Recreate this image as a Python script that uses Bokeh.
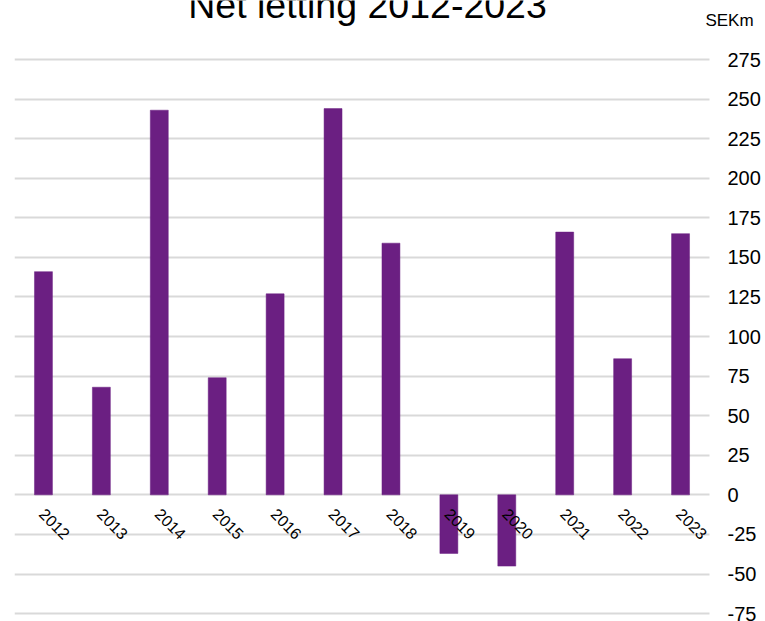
import math
from bokeh.plotting import figure
from bokeh.models import Range1d, FixedTicker, Label, ColumnDataSource
from bokeh.core.properties import value
from bokeh.embed import file_html
from bokeh.resources import INLINE

years = ["2012", "2013", "2014", "2015", "2016", "2017",
         "2018", "2019", "2020", "2021", "2022", "2023"]
net_letting = [141, 68, 243, 74, 127, 244, 159, -37, -45, 166, 86, 165]
y_ticks = [-75, -50, -25, 0, 25, 50, 75, 100, 125, 150, 175, 200, 225, 250, 275]
y_tick_labels = {t: str(t) for t in y_ticks}
title_text = "Net letting 2012-2023"
unit_text = "SEKm"

FONT = "Liberation Sans"
BAR = "#6B1F82"

n = len(years)
pos = [i + 0.5 for i in range(n)]
src = ColumnDataSource(dict(pos=pos, year=years, val=net_letting, zero=[0] * n))

# plot area 14..709 px holds the 12 categories; frame runs to the canvas edge
x_end = n * (765 - 14) / (709 - 14)

p = figure(width=765, height=621,
           x_range=Range1d(0, x_end), y_range=Range1d(-80, 312.3),
           x_axis_location=None, y_axis_location="right",
           output_backend="svg", toolbar_location=None, title=None,
           min_border_left=14, min_border_right=0,
           min_border_top=0, min_border_bottom=0)

p.outline_line_color = None
p.background_fill_color = "white"
p.border_fill_color = "white"
p.xgrid.grid_line_color = None
p.ygrid.grid_line_color = "#D9D9D9"
p.ygrid.grid_line_width = 2
p.ygrid.ticker = FixedTicker(ticks=y_ticks)
p.ygrid.cross_bounds = (0, n)

ax = p.yaxis[0]
ax.fixed_location = n
ax.ticker = FixedTicker(ticks=y_ticks)
ax.major_label_overrides = y_tick_labels
ax.axis_line_color = None
ax.major_tick_line_color = None
ax.minor_tick_line_color = None
ax.major_tick_out = 0
ax.major_tick_in = 0
ax.major_label_standoff = 18
ax.major_label_text_font = FONT
ax.major_label_text_font_size = "20px"
ax.major_label_text_color = "#000000"

p.vbar(x="pos", top="val", bottom=0, width=0.31, source=src,
       fill_color=BAR, line_color=BAR, line_width=0.5)

p.text(x="pos", y="zero", text="year", source=src, angle=-math.pi / 4,
       text_align="left", text_baseline="top", x_offset=3, y_offset=12,
       text_font=value(FONT), text_font_size="16px", text_color="#000000")

p.add_layout(Label(x=6.095, y=309.4, text=title_text, text_align="center",
                   text_baseline="alphabetic", text_font=FONT,
                   text_font_size="37.5px", text_color="#000000"))
p.add_layout(Label(x=11.93, y=299.8, text=unit_text, text_align="left",
                   text_baseline="alphabetic", text_font=FONT,
                   text_font_size="17px", text_color="#000000"))

open("out.html", "w").write(file_html(p, INLINE))
